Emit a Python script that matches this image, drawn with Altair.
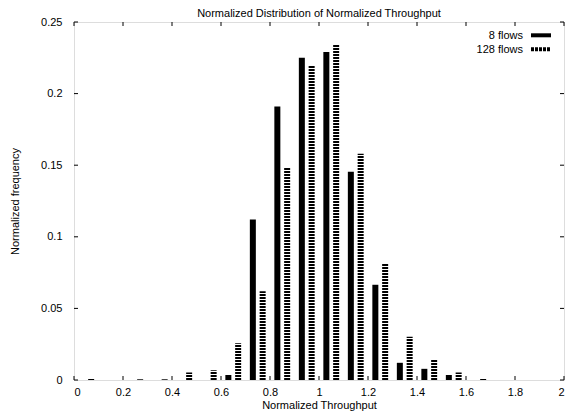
import altair as alt
import pandas as pd

# ---- data ----
flows8_x = [0.63, 0.73, 0.83, 0.93, 1.03, 1.13, 1.23, 1.33, 1.43, 1.53]
flows8_y = [0.0035, 0.112, 0.191, 0.225, 0.229, 0.1455, 0.0665, 0.012, 0.0078, 0.0035]

flows128_x = [0.07, 0.27, 0.37, 0.47, 0.57, 0.67, 0.77, 0.87, 0.97, 1.07,
              1.17, 1.27, 1.37, 1.47, 1.57, 1.67]
flows128_y = [0.0007, 0.0005, 0.0005, 0.0052, 0.0068, 0.0257, 0.062, 0.1484, 0.2195, 0.2345,
              0.158, 0.0815, 0.0302, 0.014, 0.0052, 0.0007]

x_ticks = [0, 0.2, 0.4, 0.6, 0.8, 1.0, 1.2, 1.4, 1.6, 1.8, 2.0]
y_ticks = [0, 0.05, 0.1, 0.15, 0.2, 0.25]

legend_labels = ["8 flows", "128 flows"]
chart_title = "Normalized Distribution of Normalized Throughput"

W, H = 490, 358
FONT = "Liberation Sans"

df8 = pd.DataFrame({"x": flows8_x, "v": flows8_y})
df128 = pd.DataFrame({"x": flows128_x, "v": flows128_y, "zero": [0.0] * len(flows128_x)})
dfx = pd.DataFrame({"t": x_ticks})
dfy = pd.DataFrame({"t": y_ticks})
one = pd.DataFrame({"a": [1]})

xscale = alt.Scale(domain=[0, 2], nice=False, zero=False, padding=0)
yscale = alt.Scale(domain=[0, 0.25], nice=False)

xaxis = alt.Axis(values=x_ticks, format="~g", ticks=False, domain=False, grid=False,
                 labelPadding=6, title="Normalized Throughput", titlePadding=2,
                 labelFont=FONT, titleFont=FONT, labelFontSize=11, titleFontSize=11,
                 titleFontWeight="normal", labelColor="#000", titleColor="#000")
yaxis = alt.Axis(values=y_ticks, format="~g", ticks=False, domain=False, grid=False,
                 labelPadding=12, title="Normalized frequency", titlePadding=20,
                 labelFont=FONT, titleFont=FONT, labelFontSize=11, titleFontSize=11,
                 titleFontWeight="normal", labelColor="#000", titleColor="#000")

bars8 = alt.Chart(df8).mark_bar(color="#000", size=6).encode(
    x=alt.X("x:Q", scale=xscale, axis=xaxis),
    y=alt.Y("v:Q", scale=yscale, axis=yaxis),
)

bars128 = alt.Chart(df128).mark_rule(color="#000", strokeWidth=6, strokeDash=[2, 1]).encode(
    x=alt.X("x:Q", scale=xscale),
    y=alt.Y("zero:Q", scale=yscale),
    y2="v:Q",
)

tick_style = dict(color="#000", strokeWidth=1)
top_ticks = alt.Chart(dfx).mark_rule(**tick_style).encode(
    x=alt.X("t:Q", scale=xscale), y=alt.value(0), y2=alt.value(4))
bot_ticks = alt.Chart(dfx).mark_rule(**tick_style).encode(
    x=alt.X("t:Q", scale=xscale), y=alt.value(H), y2=alt.value(H - 4))
left_ticks = alt.Chart(dfy).mark_rule(**tick_style).encode(
    y=alt.Y("t:Q", scale=yscale), x=alt.value(0), x2=alt.value(4))
right_ticks = alt.Chart(dfy).mark_rule(**tick_style).encode(
    y=alt.Y("t:Q", scale=yscale), x=alt.value(W), x2=alt.value(W - 4))

title_text = alt.Chart(one).mark_text(align="center", baseline="alphabetic", font=FONT,
                                      fontSize=11, color="#000").encode(
    x=alt.value(W / 2), y=alt.value(-5), text=alt.value(chart_title))

leg_text1 = alt.Chart(one).mark_text(align="right", baseline="middle", font=FONT,
                                     fontSize=11, color="#000").encode(
    x=alt.value(449), y=alt.value(13.5), text=alt.value(legend_labels[0]))
leg_text2 = alt.Chart(one).mark_text(align="right", baseline="middle", font=FONT,
                                     fontSize=11, color="#000").encode(
    x=alt.value(449), y=alt.value(27.5), text=alt.value(legend_labels[1]))
leg_sw1 = alt.Chart(one).mark_rule(color="#000", strokeWidth=4).encode(
    x=alt.value(457), x2=alt.value(477), y=alt.value(13.3))
leg_sw2 = alt.Chart(one).mark_rule(color="#000", strokeWidth=4, strokeDash=[3, 1]).encode(
    x=alt.value(457), x2=alt.value(477), y=alt.value(27.3))

chart = alt.layer(
    bars8, bars128, top_ticks, bot_ticks, left_ticks, right_ticks, title_text,
    leg_text1, leg_text2, leg_sw1, leg_sw2,
).properties(
    width=W, height=H,
    autosize=alt.AutoSizeParams(type="none"),
    padding={"left": 66, "top": 14, "right": 3, "bottom": 33},
).configure_view(
    stroke="#000", strokeWidth=1
).configure(background="white")

chart.save("out.html", embed_options={"renderer": "svg", "actions": False})
